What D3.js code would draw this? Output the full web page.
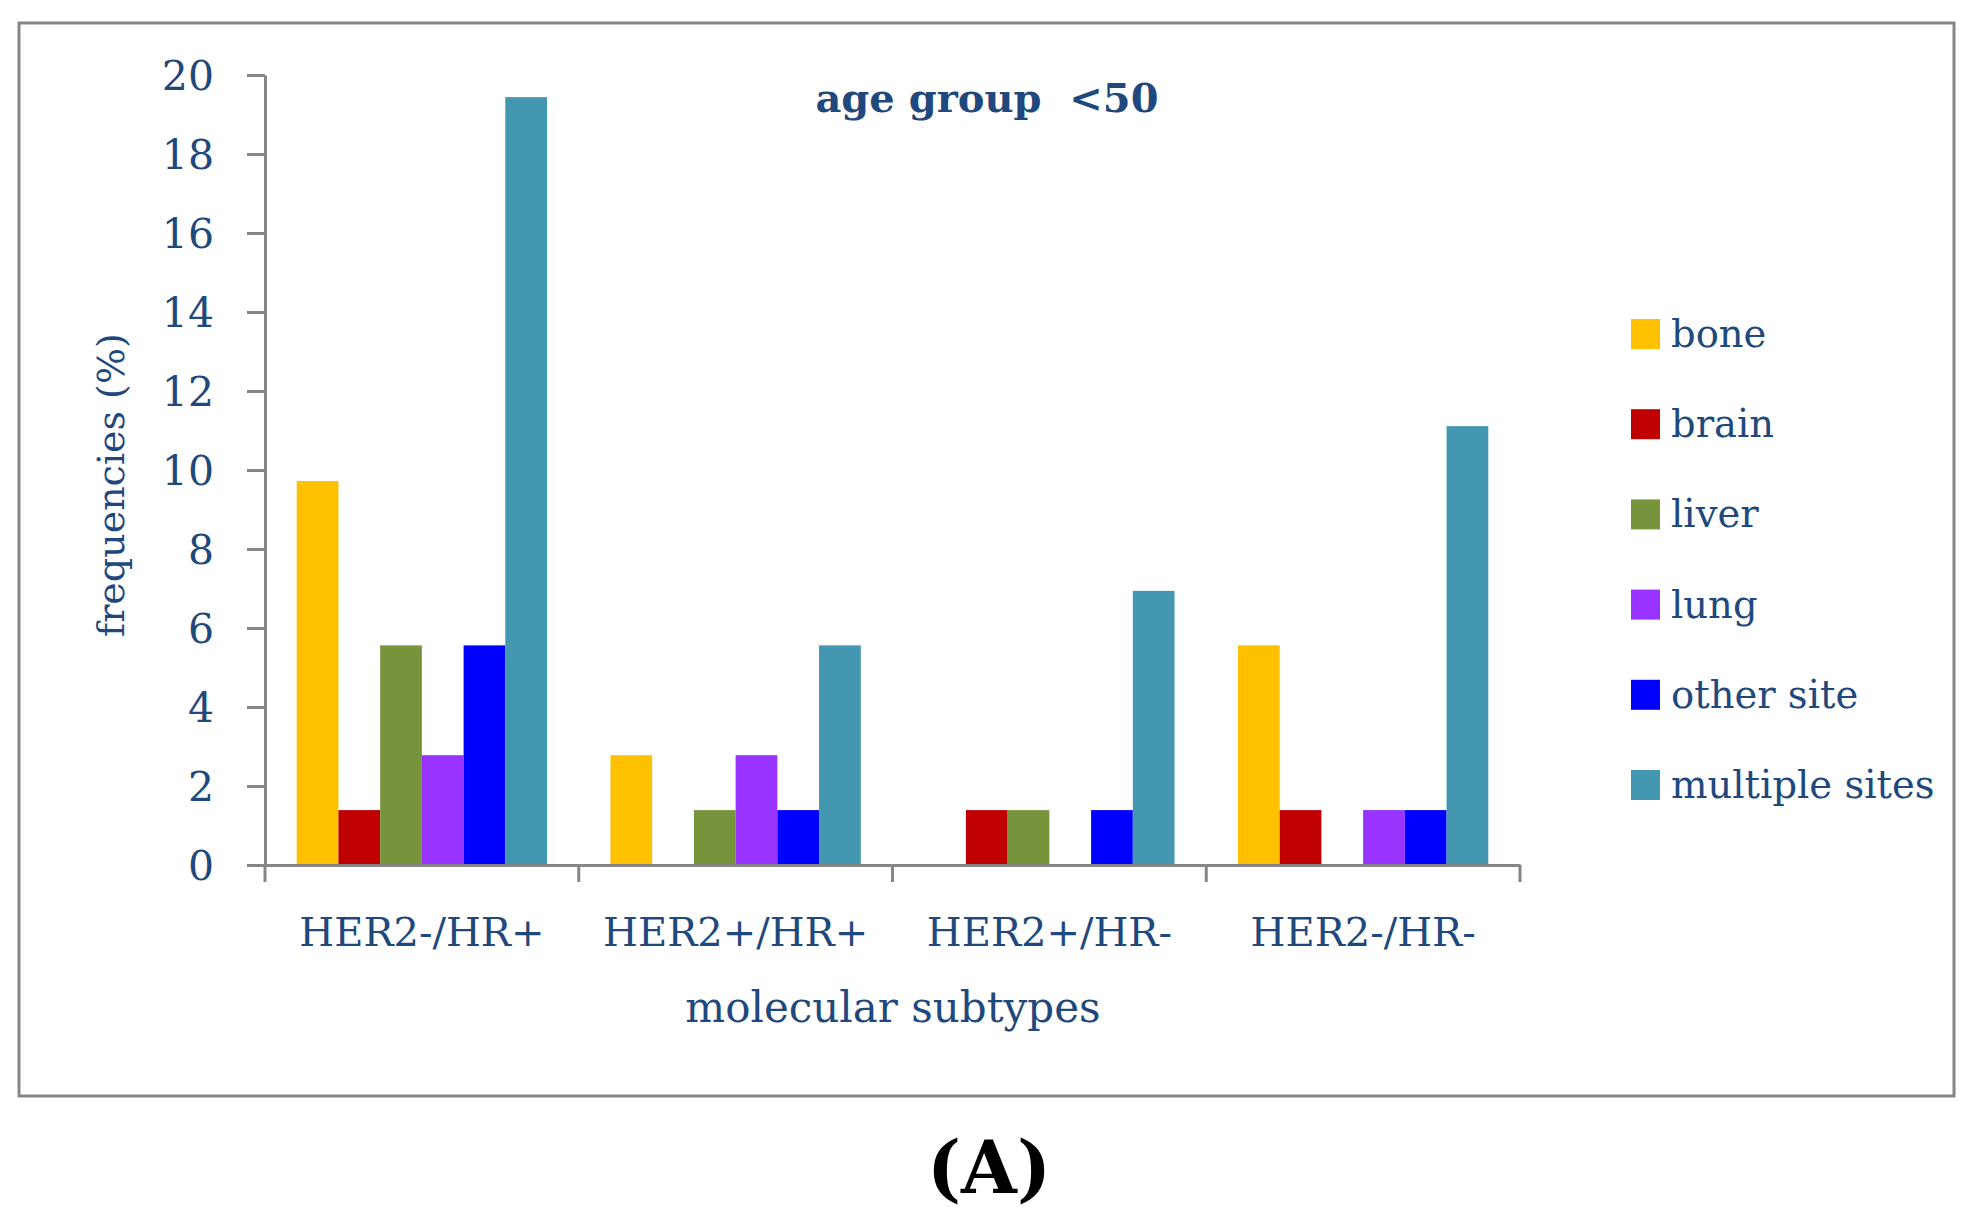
<!DOCTYPE html>
<html>
<head>
<meta charset="utf-8">
<script src="https://cdn.jsdelivr.net/npm/d3@7"></script>
<style>
  html, body { margin: 0; padding: 0; background: #fff; }
  svg text { font-family: "DejaVu Serif", "Liberation Serif", serif; }
</style>
</head>
<body>
<div class="chart"></div>
<script>
// subtypes on the x axis
const subtypes = ["HER2-/HR+", "HER2+/HR+", "HER2+/HR-", "HER2-/HR-"];
// metastasis sites, one bar each per subtype
const sites = ["bone", "brain", "liver", "lung", "other site", "multiple sites"];
const siteColors = ["#FFC000", "#C00000", "#77933C", "#9933FF", "#0000FF", "#4397B0"];

// frequencies (%) per site, in subtype order
const bone      = [9.72, 2.78, 0,    5.56];
const brain     = [1.39, 0,    1.39, 1.39];
const liver     = [5.56, 1.39, 1.39, 0];
const lung      = [2.78, 2.78, 0,    1.39];
const otherSite = [5.56, 1.39, 1.39, 1.39];
const multiple  = [19.44, 5.56, 6.94, 11.11];

const yTicks = [0, 2, 4, 6, 8, 10, 12, 14, 16, 18, 20];

const seriesValues = [bone, brain, liver, lung, otherSite, multiple];

// flat rows for the join
const data = [];
subtypes.forEach((s, i) => {
  sites.forEach((site, j) => {
    data.push({ subtype: s, site: site, value: seriesValues[j][i] });
  });
});

const W = 1977, H = 1218;
const textColor = "#1F497D";
const axisColor = "#868686";

// plot area edges
const plot = { left: 265, right: 1520, top: 75, bottom: 865 };

const svg = d3.select(".chart")
  .append("svg")
  .attr("width", W)
  .attr("height", H);

// outer frame
svg.append("rect")
  .attr("x", 19).attr("y", 23)
  .attr("width", 1935).attr("height", 1073)
  .attr("fill", "none")
  .attr("stroke", axisColor)
  .attr("stroke-width", 3);

const x0 = d3.scaleBand()
  .domain(subtypes)
  .range([plot.left, plot.right])
  .padding(0);

const x1 = d3.scaleBand()
  .domain(sites)
  .range([0, x0.bandwidth()])
  .paddingInner(0)
  .paddingOuter(0.76);

const y = d3.scaleLinear()
  .domain([0, 20])
  .range([plot.bottom, plot.top]);

const color = d3.scaleOrdinal()
  .domain(sites)
  .range(siteColors);

// bars
svg.append("g")
  .selectAll("rect")
  .data(data.filter(d => d.value > 0))
  .join("rect")
  .attr("x", d => x0(d.subtype) + x1(d.site))
  .attr("y", d => y(d.value))
  .attr("width", x1.bandwidth())
  .attr("height", d => y(0) - y(d.value))
  .attr("fill", d => color(d.site));

// y axis
const yAxis = svg.append("g")
  .attr("transform", `translate(${plot.left},0)`)
  .call(d3.axisLeft(y).tickValues(yTicks).tickSize(18).tickSizeOuter(0).tickPadding(33));
yAxis.selectAll("path, line").attr("stroke", axisColor).attr("stroke-width", 3);
yAxis.selectAll("text")
  .attr("fill", textColor)
  .style("font-size", "41px")
  .attr("dy", "0.36em");

// x axis: labels at band centres, ticks at band edges
const xAxis = svg.append("g")
  .attr("transform", `translate(0,${plot.bottom})`)
  .call(d3.axisBottom(x0).tickSize(0).tickSizeOuter(0).tickPadding(53));
xAxis.select(".domain").attr("stroke", axisColor).attr("stroke-width", 3);
xAxis.selectAll("text")
  .attr("fill", textColor)
  .style("font-size", "40px");

const edges = subtypes.map(s => x0(s)).concat([x0(subtypes[subtypes.length - 1]) + x0.bandwidth()]);
xAxis.selectAll(".edge")
  .data(edges)
  .join("line")
  .attr("class", "edge")
  .attr("x1", d => d).attr("x2", d => d)
  .attr("y1", 0).attr("y2", 17)
  .attr("stroke", axisColor)
  .attr("stroke-width", 3);

// titles
svg.append("text")
  .attr("x", 987).attr("y", 112)
  .attr("text-anchor", "middle")
  .attr("fill", textColor)
  .style("font-size", "40px")
  .style("font-weight", "bold")
  .style("white-space", "pre")
  .text("age group  <50");

svg.append("text")
  .attr("transform", "translate(124,485) rotate(-90)")
  .attr("text-anchor", "middle")
  .attr("fill", textColor)
  .style("font-size", "38px")
  .text("frequencies (%)");

svg.append("text")
  .attr("x", 893).attr("y", 1022)
  .attr("text-anchor", "middle")
  .attr("fill", textColor)
  .style("font-size", "42px")
  .text("molecular subtypes");

// legend
const legend = svg.append("g")
  .selectAll("g")
  .data(sites)
  .join("g")
  .attr("transform", (d, i) => `translate(1631,${334 + i * 90.2})`);
legend.append("rect")
  .attr("x", 0).attr("y", -15)
  .attr("width", 29).attr("height", 30)
  .attr("fill", d => color(d));
legend.append("text")
  .attr("x", 40).attr("y", 13)
  .attr("fill", textColor)
  .style("font-size", "38.5px")
  .text(d => d);

// panel letter
svg.append("text")
  .attr("x", 989).attr("y", 1193)
  .attr("text-anchor", "middle")
  .attr("fill", "#000")
  .style("font-size", "72px")
  .style("font-weight", "bold")
  .text("(A)");
</script>
</body>
</html>
